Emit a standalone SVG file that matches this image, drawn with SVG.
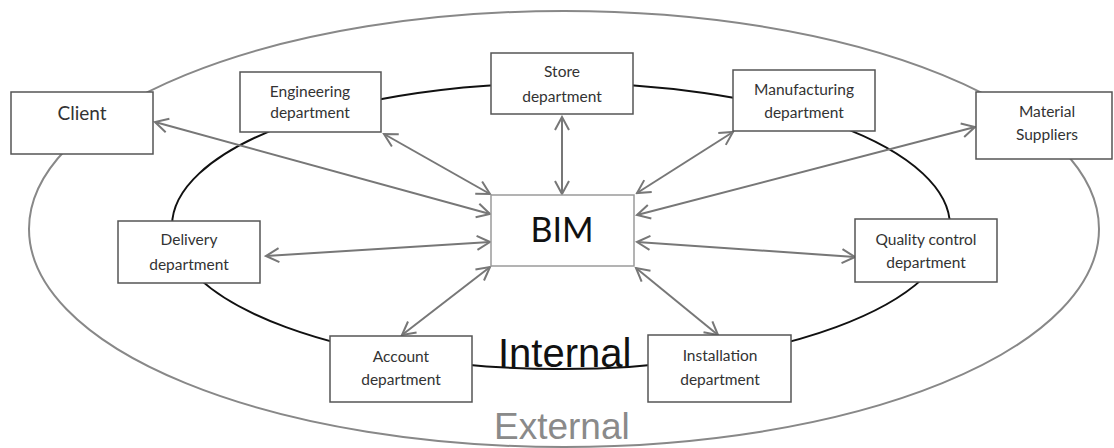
<svg xmlns="http://www.w3.org/2000/svg" width="1114" height="448" viewBox="0 0 1114 448">
  <defs>
    <marker id="open-arrow" markerUnits="userSpaceOnUse" markerWidth="18" markerHeight="18" viewBox="0 0 18 18" refX="16" refY="9" orient="auto-start-reverse">
      <path d="M3,2 L16,9 L3,16" fill="none" stroke="#777" stroke-width="2"/>
    </marker>
  </defs>
  <style>
    .box { fill: #fff; stroke: #555; stroke-width: 1.5; }
    .bim { fill: #fff; stroke: #9a9a9a; stroke-width: 1.5; }
    .lbl { font-family: Lato, "Open Sans", sans-serif; font-size: 15.5px; fill: #333; text-anchor: middle; }
    .lbl-lg { font-family: Lato, "Open Sans", sans-serif; font-size: 19px; fill: #333; text-anchor: middle; }
    .conn { stroke: #777; stroke-width: 2; fill: none; marker-start: url(#open-arrow); marker-end: url(#open-arrow); }
  </style>
  <rect width="1114" height="448" fill="#fff"/>

  <!-- zone rings -->
  <g id="zones">
    <ellipse id="external-ring" cx="564" cy="229" rx="535" ry="218" fill="none" stroke="#888" stroke-width="2"/>
    <ellipse id="internal-ring" cx="561" cy="226" rx="389" ry="143" fill="none" stroke="#111" stroke-width="2"/>
    <text x="498" y="367" font-family="'Liberation Sans', Arial, sans-serif" font-size="40" fill="#111">Internal</text>
    <text x="494" y="439" font-family="'Liberation Sans', Arial, sans-serif" font-size="37" fill="#8a8a8a">External</text>
  </g>

  <!-- connectors -->
  <g id="connectors">
    <line class="conn" x1="155" y1="122" x2="490" y2="214"/>
    <line class="conn" x1="384" y1="134" x2="490" y2="194"/>
    <line class="conn" x1="562" y1="117" x2="562" y2="194"/>
    <line class="conn" x1="733" y1="132" x2="637" y2="193"/>
    <line class="conn" x1="975" y1="127" x2="637" y2="215"/>
    <line class="conn" x1="266" y1="256" x2="490" y2="242"/>
    <line class="conn" x1="637" y1="242" x2="855" y2="257"/>
    <line class="conn" x1="402" y1="335" x2="490" y2="267"/>
    <line class="conn" x1="636" y1="268" x2="718" y2="335"/>
  </g>

  <g id="client">
    <rect class="box" x="11" y="92" width="142" height="62"/>
    <text class="lbl-lg" x="82" y="120">Client</text>
  </g>
  <g id="engineering">
    <rect class="box" x="240" y="72" width="141" height="60"/>
    <text class="lbl" x="310" y="97">Engineering</text>
    <text class="lbl" x="310" y="118">department</text>
  </g>
  <g id="store">
    <rect class="box" x="491" y="53" width="142" height="61"/>
    <text class="lbl" x="562" y="77">Store</text>
    <text class="lbl" x="562" y="102">department</text>
  </g>
  <g id="manufacturing">
    <rect class="box" x="733" y="70" width="142" height="61"/>
    <text class="lbl" x="804" y="95">Manufacturing</text>
    <text class="lbl" x="804" y="118">department</text>
  </g>
  <g id="material-suppliers">
    <rect class="box" x="976" y="92" width="136" height="67"/>
    <text class="lbl" x="1047" y="117">Material</text>
    <text class="lbl" x="1047" y="140">Suppliers</text>
  </g>
  <g id="delivery">
    <rect class="box" x="118" y="221" width="142" height="62"/>
    <text class="lbl" x="189" y="245">Delivery</text>
    <text class="lbl" x="189" y="270">department</text>
  </g>
  <g id="bim">
    <rect class="bim" x="491" y="195" width="143" height="71"/>
    <text x="562" y="242" font-family="Lato, 'Open Sans', sans-serif" font-size="34" fill="#111" text-anchor="middle">BIM</text>
  </g>
  <g id="quality-control">
    <rect class="box" x="855" y="219" width="142" height="63"/>
    <text class="lbl" x="926" y="245">Quality control</text>
    <text class="lbl" x="926" y="268">department</text>
  </g>
  <g id="account">
    <rect class="box" x="330" y="336" width="142" height="66"/>
    <text class="lbl" x="401" y="362">Account</text>
    <text class="lbl" x="401" y="385">department</text>
  </g>
  <g id="installation">
    <rect class="box" x="648" y="335" width="143" height="67"/>
    <text class="lbl" x="720" y="361">Installation</text>
    <text class="lbl" x="720" y="385">department</text>
  </g>
</svg>
